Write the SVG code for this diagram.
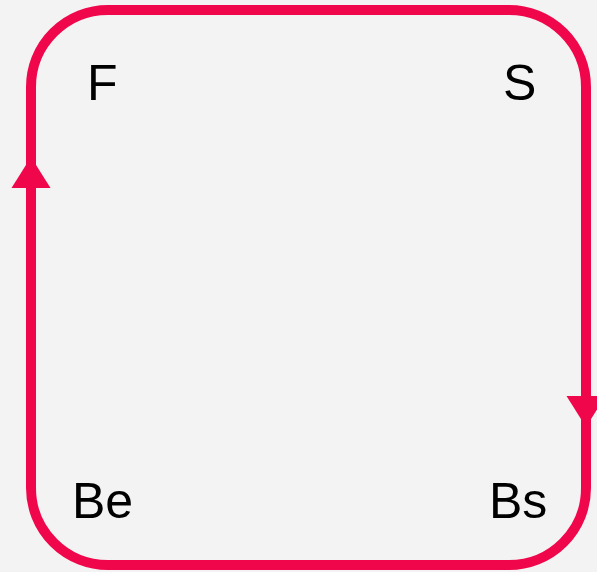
<svg xmlns="http://www.w3.org/2000/svg" width="597" height="572" viewBox="0 0 597 572">
<style>
.lbl{font-family:"Liberation Sans",Arial,sans-serif;font-size:50px;fill:#000}
.loop{fill:none;stroke:#f0074b;stroke-width:10}
.head{fill:#f0074b}
</style>
<defs>
<polygon id="ah" points="0,0 -19.5,31 19.5,31"/>
</defs>
<rect width="597" height="572" fill="#f3f3f3"/>
<g id="connectors">
<rect class="loop" x="31" y="10" width="555" height="555" rx="77" ry="77"/>
<use href="#ah" class="head" transform="translate(31,157)"/>
<use href="#ah" class="head" transform="translate(586,427) rotate(180)"/>
</g>
<g id="node-F"><text class="lbl" x="87" y="100">F</text></g>
<g id="node-S"><text class="lbl" x="503" y="100">S</text></g>
<g id="node-Be"><text class="lbl" x="72" y="518">Be</text></g>
<g id="node-Bs"><text class="lbl" x="489" y="518">Bs</text></g>
</svg>
